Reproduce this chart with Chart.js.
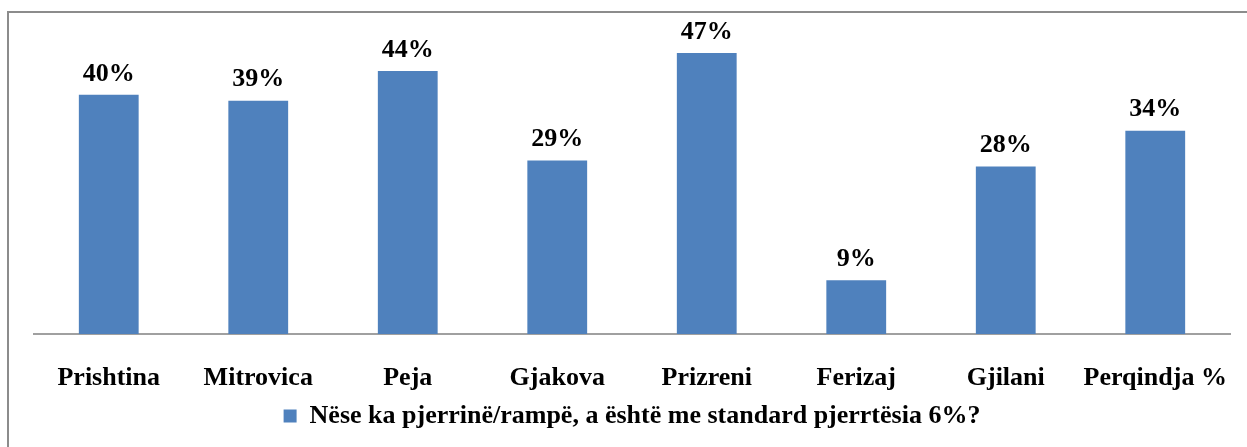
<!DOCTYPE html>
<html>
<head>
<meta charset="utf-8">
<script src="https://cdn.jsdelivr.net/npm/chart.js@4"></script>
<style>
  body { margin: 0; background: #fff; overflow: hidden; }
  #wrap { position: relative; width: 1247px; height: 447px; overflow: hidden; }
  #frame { position: absolute; left: 7px; top: 11px; width: 1260px; height: 450px; border: 2px solid #8c8c8c; box-sizing: border-box; }
  canvas { position: absolute; left: 0; top: 0; }
</style>
</head>
<body>
<div id="wrap">
  <div id="frame"></div>
  <canvas id="barChart" width="1247" height="447"></canvas>
</div>
<script>
// te dhenat
const categories = ["Prishtina", "Mitrovica", "Peja", "Gjakova", "Prizreni", "Ferizaj", "Gjilani", "Perqindja %"];
const values = [40, 39, 44, 29, 47, 9, 28, 34];
const seriesLabel = "Nëse ka pjerrinë/rampë, a është me standard pjerrtësia 6%?";

const FONT = "'Liberation Serif', 'Times New Roman', serif";

// etiketat mbi shtylla
const valueLabels = {
    id: "valueLabels",
    afterDatasetsDraw(chart) {
        const ctx = chart.ctx;
        const meta = chart.getDatasetMeta(0);
        ctx.save();
        ctx.font = "bold 26px " + FONT;
        ctx.fillStyle = "#000";
        ctx.textAlign = "center";
        ctx.textBaseline = "bottom";
        meta.data.forEach((bar, i) => {
            ctx.fillText(values[i] + "%", bar.x, bar.y - 8);
        });
        ctx.restore();
    }
};

const ctx = document.getElementById("barChart").getContext("2d");
new Chart(ctx, {
    type: "bar",
    data: {
        labels: categories,
        datasets: [{
            label: seriesLabel,
            data: values,
            backgroundColor: "#4F81BD",
            barPercentage: 0.4,
            categoryPercentage: 1.0
        }]
    },
    options: {
        responsive: false,
        animation: false,
        layout: { padding: { left: 34, right: 17, top: 35, bottom: 8 } },
        scales: {
            x: {
                grid: { display: false, drawTicks: false },
                border: { display: true, color: "#a0a0a0", width: 2 },
                ticks: { color: "#000", padding: 31, font: { family: FONT, size: 26, weight: "bold", lineHeight: 1.0 } },
                afterFit(scale) {
                    scale.height = 69;
                    scale.paddingLeft = 0;
                    scale.paddingRight = 0;
                }
            },
            y: {
                display: false,
                min: 0,
                max: 50
            }
        },
        plugins: {
            legend: {
                position: "bottom",
                labels: {
                    color: "#000",
                    boxWidth: 13,
                    boxHeight: 13,
                    padding: 0,
                    font: { family: FONT, size: 26, weight: "bold" }
                }
            },
            tooltip: { enabled: false }
        }
    },
    plugins: [valueLabels]
});
</script>
</body>
</html>
